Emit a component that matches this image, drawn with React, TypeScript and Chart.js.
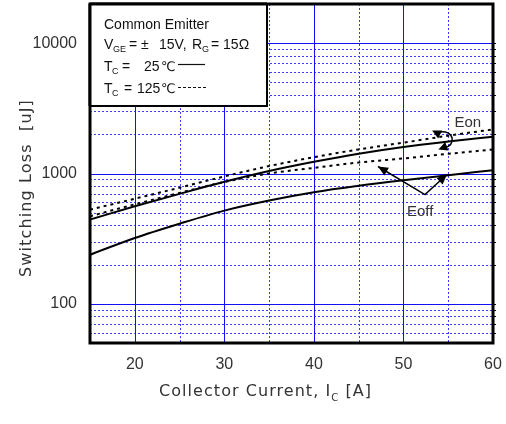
import React, { useEffect, useRef } from "react";
import { Chart, registerables } from "chart.js";

Chart.register(...registerables);

// ---- data ----
const currents = [15, 20, 25, 30, 35, 40, 45, 50, 55, 60];
const eon25 = [443, 560, 698, 863, 1045, 1230, 1420, 1600, 1760, 1916];
const eoff25 = [238, 320, 412, 519, 620, 718, 805, 888, 970, 1060];
const eon125 = [528, 640, 778, 950, 1140, 1335, 1530, 1725, 1950, 2180];
const eoff125 = [470, 580, 710, 860, 1000, 1105, 1215, 1305, 1415, 1530];

const xTickValues = [20, 30, 40, 50, 60];
const yTickValues = [100, 1000, 10000];
const xMajorGrid = [20, 30, 40, 50];
const xMinorGrid = [25, 35, 45, 55];
const yMajorGrid = [100, 1000, 10000];
const yMinorGrid = [60, 70, 80, 90, 200, 300, 400, 500, 600, 700, 800, 900, 2000, 3000, 4000, 5000, 6000, 7000, 8000, 9000];

const X_MIN = 15;
const X_MAX = 60;
const Y_MIN = 50;
const Y_MAX = 20000;

// annotation anchors (data coordinates)
const eonLabel = { x: 55.7, y: 2280, text: "Eon" };
const eoffLabel = { x: 50.4, y: 472, text: "Eoff" };
const eonTipUpper = { x: 53.2, y: 2140 };
const eonTipLower = { x: 53.9, y: 1530 };
const eonBulge = { x: 55.5, y: 1800 };
const eoffVertex = { x: 52.4, y: 689 };
const eoffTip1 = { x: 47.16, y: 1132 };
const eoffTip2 = { x: 54.86, y: 982 };

const SANS = "'Liberation Sans', 'DejaVu Sans', Arial, sans-serif";
const WIDE = "'DejaVu Sans', 'Liberation Sans', sans-serif";

function arrowHead(ctx: CanvasRenderingContext2D, fx: number, fy: number, tx: number, ty: number, len = 9, half = 4) {
  const a = Math.atan2(ty - fy, tx - fx);
  ctx.beginPath();
  ctx.moveTo(tx, ty);
  ctx.lineTo(tx - len * Math.cos(a) + half * Math.sin(a), ty - len * Math.sin(a) - half * Math.cos(a));
  ctx.lineTo(tx - len * Math.cos(a) - half * Math.sin(a), ty - len * Math.sin(a) + half * Math.cos(a));
  ctx.closePath();
  ctx.fill();
}

function fitText(ctx: CanvasRenderingContext2D, runs: { t: string; font: string; dy: number }[], target: number) {
  let w = 0;
  let n = 0;
  for (const r of runs) {
    ctx.font = r.font;
    w += ctx.measureText(r.t).width;
    n += r.t.length;
  }
  return n > 1 ? (target - w) / n : 0;
}

function drawRuns(ctx: CanvasRenderingContext2D, runs: { t: string; font: string; dy: number }[], x: number, y: number, ls: number) {
  let cx = x;
  for (const r of runs) {
    ctx.font = r.font;
    (ctx as any).letterSpacing = ls + "px";
    ctx.fillText(r.t, cx, y + r.dy);
    cx += ctx.measureText(r.t).width;
  }
  (ctx as any).letterSpacing = "0px";
}

const paperPlugin = {
  id: "paper",
  beforeDatasetsDraw(chart: any) {
    const { ctx, chartArea } = chart;
    const { left, right, top, bottom } = chartArea;
    const xs = chart.scales.x;
    const ys = chart.scales.y;
    ctx.save();
    // minor dotted grid
    ctx.strokeStyle = "#3c3cff";
    ctx.lineWidth = 1;
    ctx.setLineDash([2, 2]);
    for (const v of yMinorGrid) {
      const py = Math.round(ys.getPixelForValue(v)) + 0.5;
      ctx.beginPath();
      ctx.moveTo(left, py);
      ctx.lineTo(right, py);
      ctx.stroke();
    }
    for (const v of xMinorGrid) {
      const px = Math.round(xs.getPixelForValue(v)) + 0.5;
      ctx.beginPath();
      ctx.moveTo(px, top);
      ctx.lineTo(px, bottom);
      ctx.stroke();
    }
    // major solid grid
    ctx.setLineDash([]);
    ctx.strokeStyle = "#1010ff";
    for (const v of yMajorGrid) {
      const py = Math.round(ys.getPixelForValue(v)) + 0.5;
      ctx.beginPath();
      ctx.moveTo(left, py);
      ctx.lineTo(right, py);
      ctx.stroke();
    }
    for (const v of xMajorGrid) {
      const px = Math.round(xs.getPixelForValue(v)) + 0.5;
      ctx.beginPath();
      ctx.moveTo(px, top);
      ctx.lineTo(px, bottom);
      ctx.stroke();
    }
    // small ticks outside right edge
    ctx.strokeStyle = "#000";
    for (const v of [...yMajorGrid, ...yMinorGrid]) {
      const py = Math.round(ys.getPixelForValue(v)) + 0.5;
      ctx.beginPath();
      ctx.moveTo(right, py);
      ctx.lineTo(right + 3, py);
      ctx.stroke();
    }
    ctx.restore();
  },
  afterDatasetsDraw(chart: any) {
    const { ctx, chartArea } = chart;
    const { left, right, top, bottom } = chartArea;
    const xs = chart.scales.x;
    const ys = chart.scales.y;
    const P = (p: { x: number; y: number }) => ({ x: xs.getPixelForValue(p.x), y: ys.getPixelForValue(p.y) });
    ctx.save();

    // frame
    ctx.strokeStyle = "#000";
    ctx.lineWidth = 3;
    ctx.strokeRect(left, top, right - left, bottom - top);

    // legend box
    ctx.fillStyle = "#fff";
    ctx.fillRect(left, top, 177, 102);
    ctx.lineWidth = 2;
    ctx.strokeRect(left, top, 177, 102);
    ctx.lineWidth = 3;
    ctx.beginPath();
    ctx.moveTo(left, top);
    ctx.lineTo(left, top + 102);
    ctx.moveTo(left, top);
    ctx.lineTo(left + 177, top);
    ctx.stroke();

    ctx.fillStyle = "#111";
    ctx.textBaseline = "alphabetic";
    ctx.textAlign = "left";
    const main = `14px ${SANS}`;
    const sub = `9px ${SANS}`;
    ctx.font = main;
    ctx.fillText("Common Emitter", 104, 29);
    // line 2
    ctx.font = main;
    ctx.fillText("V", 104, 49);
    ctx.font = sub;
    ctx.fillText("GE", 113, 52);
    ctx.font = main;
    ctx.fillText("=", 129, 49);
    ctx.fillText("\u00b1", 141, 49);
    ctx.fillText("15V,", 159, 49);
    ctx.fillText("R", 192, 49);
    ctx.font = sub;
    ctx.fillText("G", 202, 52);
    ctx.font = main;
    ctx.fillText("= 15\u03a9", 211, 49);
    // line 3
    ctx.fillText("T", 104, 71);
    ctx.font = sub;
    ctx.fillText("C", 112, 74);
    ctx.font = main;
    ctx.fillText("=", 122, 71);
    ctx.fillText("25", 144, 71);
    ctx.font = `13px ${SANS}`;
    ctx.fillText("\u2103", 161, 71);
    ctx.strokeStyle = "#111";
    ctx.lineWidth = 1.2;
    ctx.beginPath();
    ctx.moveTo(178, 64.5);
    ctx.lineTo(205, 64.5);
    ctx.stroke();
    // line 4
    ctx.font = main;
    ctx.fillText("T", 104, 93);
    ctx.font = sub;
    ctx.fillText("C", 112, 96);
    ctx.font = main;
    ctx.fillText("=", 124, 93);
    ctx.fillText("125", 137, 93);
    ctx.font = `13px ${SANS}`;
    ctx.fillText("\u2103", 161, 93);
    ctx.setLineDash([3, 2]);
    ctx.beginPath();
    ctx.moveTo(178, 87.5);
    ctx.lineTo(208, 87.5);
    ctx.stroke();
    ctx.setLineDash([]);

    // Eon / Eoff labels
    ctx.fillStyle = "#333";
    ctx.font = `15px ${SANS}`;
    const el = P(eonLabel);
    ctx.fillText(eonLabel.text, el.x, el.y);
    const fl = P(eoffLabel);
    ctx.fillText(eoffLabel.text, fl.x, fl.y);

    // Eon arrows (curled connector)
    ctx.strokeStyle = "#000";
    ctx.fillStyle = "#000";
    ctx.lineWidth = 1.5;
    const tu = P(eonTipUpper);
    const tl = P(eonTipLower);
    const bu = P(eonBulge);
    ctx.beginPath();
    ctx.moveTo(tu.x + 6, tu.y + 2);
    ctx.bezierCurveTo(bu.x + 2, tu.y - 2, bu.x + 4, bu.y + 6, tl.x + 6, tl.y - 2);
    ctx.stroke();
    arrowHead(ctx, tu.x + 8, tu.y + 4, tu.x, tu.y, 9, 4.5);
    arrowHead(ctx, tl.x + 8, tl.y - 3, tl.x, tl.y, 9, 4.5);

    // Eoff arrows
    const v = P(eoffVertex);
    const t1 = P(eoffTip1);
    const t2 = P(eoffTip2);
    ctx.beginPath();
    ctx.moveTo(t1.x, t1.y);
    ctx.lineTo(v.x, v.y);
    ctx.lineTo(t2.x, t2.y);
    ctx.stroke();
    arrowHead(ctx, v.x, v.y, t1.x, t1.y, 10, 4.5);
    arrowHead(ctx, v.x, v.y, t2.x, t2.y, 10, 4.5);

    ctx.restore();
  },
  afterDraw(chart: any) {
    const { ctx } = chart;
    ctx.save();
    ctx.fillStyle = "#333";
    ctx.textBaseline = "alphabetic";
    ctx.textAlign = "left";
    // y title
    const yRuns = [{ t: "Switching Loss  [uJ]", font: `16px ${WIDE}`, dy: 0 }];
    const yls = fitText(ctx, yRuns, 178);
    ctx.translate(31, 277);
    ctx.rotate(-Math.PI / 2);
    drawRuns(ctx, yRuns, 0, 0, yls);
    ctx.restore();
    ctx.save();
    ctx.fillStyle = "#333";
    ctx.textBaseline = "alphabetic";
    ctx.textAlign = "left";
    // x title
    const xRuns = [
      { t: "Collector Current, I", font: `16px ${WIDE}`, dy: 0 },
      { t: "C", font: `10px ${WIDE}`, dy: 5 },
      { t: " [A]", font: `16px ${WIDE}`, dy: 0 },
    ];
    const xls = fitText(ctx, xRuns, 213);
    drawRuns(ctx, xRuns, 159, 396, xls);
    ctx.restore();
  },
};

export default function App() {
  const ref = useRef<HTMLCanvasElement | null>(null);
  useEffect(() => {
    if (!ref.current) return;
    const mk = (d: number[]) => currents.map((c, i) => ({ x: c, y: d[i] }));
    const base = {
      pointRadius: 0,
      borderColor: "#000",
      borderWidth: 2,
      cubicInterpolationMode: "monotone" as const,
      fill: false,
    };
    const chart = new Chart(ref.current, {
      type: "line",
      data: {
        datasets: [
          { ...base, label: "Eon 25C", data: mk(eon25) },
          { ...base, label: "Eoff 25C", data: mk(eoff25) },
          { ...base, label: "Eon 125C", data: mk(eon125), borderDash: [3, 4] },
          { ...base, label: "Eoff 125C", data: mk(eoff125), borderDash: [3, 4] },
        ],
      },
      options: {
        animation: false,
        responsive: false,
        maintainAspectRatio: false,
        layout: { padding: { top: 4, right: 13, bottom: 0, left: 0 } },
        plugins: { legend: { display: false }, tooltip: { enabled: false } },
        scales: {
          x: {
            type: "linear",
            min: X_MIN,
            max: X_MAX,
            grid: { display: false, drawTicks: false },
            border: { display: false },
            afterBuildTicks: (s: any) => {
              s.ticks = xTickValues.map((v) => ({ value: v }));
            },
            afterFit: (s: any) => {
              s.height = 81;
              s.paddingLeft = 0;
              s.paddingRight = 0;
            },
            ticks: {
              padding: 12,
              color: "#333",
              font: { family: SANS, size: 16 },
              maxRotation: 0,
              autoSkip: false,
              callback: (v: any) => String(v),
            },
          },
          y: {
            type: "logarithmic",
            min: Y_MIN,
            max: Y_MAX,
            grid: { display: false, drawTicks: false },
            border: { display: false },
            afterBuildTicks: (s: any) => {
              s.ticks = yTickValues.map((v) => ({ value: v }));
            },
            afterFit: (s: any) => {
              s.width = 90;
              s.paddingTop = 0;
              s.paddingBottom = 0;
            },
            ticks: {
              padding: 13,
              color: "#333",
              font: { family: SANS, size: 16 },
              autoSkip: false,
              callback: (v: any) => String(v),
            },
          },
        },
      },
      plugins: [paperPlugin],
    });
    return () => chart.destroy();
  }, []);
  return (
    <div style={{ position: "absolute", left: 0, top: 0, width: 506, height: 424, background: "#fff" }}>
      <canvas ref={ref} width={506} height={424} style={{ width: 506, height: 424, display: "block" }} />
    </div>
  );
}
